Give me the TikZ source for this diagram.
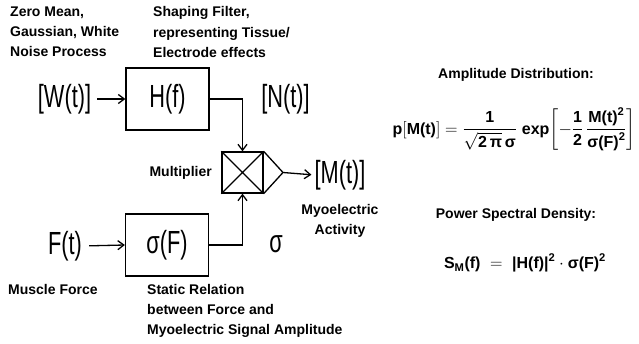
\documentclass[tikz,border=0pt]{standalone}
\usepackage{amsmath}
\usepackage{fontspec}
\setmainfont{Liberation Sans}
\newfontfamily\plainsf[FakeStretch=0.68]{Liberation Sans}
\usetikzlibrary{arrows.meta}
\begin{document}
\begin{tikzpicture}[x=1pt, y=-1pt,
  blk/.style={draw, line width=1.3pt, minimum width=83pt, minimum height=62pt, inner sep=0pt, font=\plainsf\fontsize{32}{36}\selectfont},
  sig/.style={inner sep=0pt, font=\plainsf\fontsize{32}{36}\selectfont},
  lbl/.style={inner sep=0pt, align=left, font=\bfseries\fontsize{14}{20}\selectfont},
  fml/.style={inner sep=0pt, font=\bfseries\fontsize{16}{19}\selectfont},
  wire/.style={line width=1.3pt},
  arr/.style={wire, -{Straight Barb[length=6pt, width=9pt]}}
]
\useasboundingbox (0,0) rectangle (639,344);

% signal chain
\node[sig] (wt) at (64.5,99) {[W(t)]};
\node[blk] (hf) at (167.5,99) {H(f)};
\node[sig] (nt) at (285.5,99) {[N(t)]};
\node[sig] (ft) at (65,246) {F(t)};
\node[blk] (sf) at (167,245) {σ(F)};
\node[sig] (sg) at (276,244) {σ};
\node[draw, wire, minimum size=41pt, inner sep=0pt] (mult) at (242.5,172.5) {};
\coordinate (tip) at (283,172.5);
\node[sig] (mt) at (340,175) {[M(t)]};

\draw[wire] (mult.north west) -- (mult.south east) (mult.south west) -- (mult.north east);
\draw[wire] (mult.north east) -- (tip) -- (mult.south east);

\draw[arr, shorten <=6pt] (wt.east) -- (hf.west);
\draw[arr, shorten <=7pt] (ft.east) -- (sf.west);
\draw[arr] (hf.east) -| (mult.north);
\draw[arr] (sf.east) -| (mult.south);
\draw[arr, shorten >=3pt] (tip) -- (mt.west);

% labels
\node[lbl, anchor=west] (zm) at (10,32) {Zero Mean,\\Gaussian, White\\Noise Process};
\node[lbl, anchor=west] (shp) at (153,32) {Shaping Filter,\\representing Tissue/\\Electrode effects};
\node[lbl, anchor=east] (mul) at (212,173) {Multiplier};
\node[lbl, align=center] (act) at (340,221) {Myoelectric\\Activity};
\node[lbl, anchor=west] (mf) at (8,289) {Muscle Force};
\node[lbl, anchor=west] (sr) at (147,311) {Static Relation\\between Force and\\Myoelectric Signal Amplitude};

% right side
\node[lbl] (ad) at (516,75) {Amplitude Distribution:};
\node[fml, anchor=east] (pdf) at (636,129) {$\text{p}[\text{M(t)}] = \dfrac{\text{1}}{\sqrt{\text{2}\,\text{π}}\,\text{σ}}\;\text{exp}\!\left[-\dfrac{\text{1}}{\text{2}}\,\dfrac{\text{M(t)}^{\text{2}}}{\text{σ(F)}^{\text{2}}}\right]$};
\node[lbl] (psd) at (516,215) {Power Spectral Density:};
\node[fml] (sm) at (525,263) {$\text{S}_{\text{M}}\text{(f)} \;=\; \text{|H(f)|}^{\text{2}}\cdot\text{σ(F)}^{\text{2}}$};
\end{tikzpicture}
\end{document}
